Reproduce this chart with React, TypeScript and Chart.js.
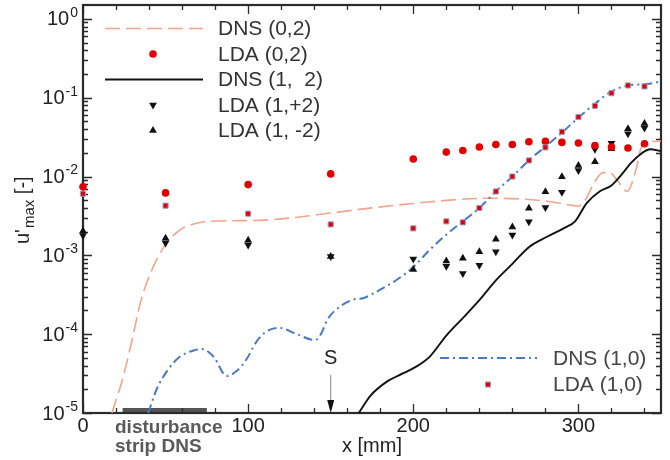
import React, { useEffect, useRef } from 'react';
import { Chart, registerables } from 'chart.js';

Chart.register(...registerables);

const FONT = '"Liberation Sans", Arial, Helvetica, sans-serif';

// ---- axis ticks ----
const xTickValues = [0, 100, 200, 300];
const yExponents = [0, -1, -2, -3, -4, -5];

// ---- LDA measurements ----
const ldaX = [0, 50, 100, 150, 200, 220, 230, 240, 250, 260, 270, 280, 290, 300, 310, 320, 330, 340];
const lda02Y = [7.4e-3, 6.2e-3, 7.9e-3, 1.08e-2, 1.67e-2, 2.04e-2, 2.14e-2, 2.37e-2, 2.55e-2, 2.55e-2, 2.76e-2, 2.79e-2, 2.71e-2, 2.66e-2, 2.48e-2, 2.37e-2, 2.3e-2, 2.6e-2];
const lda10Y = [6.05e-3, 4.27e-3, 3.38e-3, 2.47e-3, 2.2e-3, 2.7e-3, 2.62e-3, 3.99e-3, 6.47e-3, 1.0e-2, 1.6e-2, 2.34e-2, 3.7e-2, 5.68e-2, 7.89e-2, 0.114, 0.143, 0.139];
const lda1p2Y = [1.78e-3, 1.43e-3, 1.35e-3, 9.7e-4, 9.0e-4, 7.3e-4, 5.9e-4, 7.5e-4, 1.11e-3, 1.81e-3, 2.67e-3, 4.06e-3, 6.3e-3, 1.19e-2, 2.22e-2, 2.64e-2, 3.49e-2, 4.13e-2];
const lda1m2Y = [2.04e-3, 1.65e-3, 1.56e-3, 9.7e-4, 6.6e-4, 8.5e-4, 9.2e-4, 1.11e-3, 1.6e-3, 2.29e-3, 3.95e-3, 6.4e-3, 9.9e-3, 1.38e-2, 1.54e-2, 2.25e-2, 4.04e-2, 4.7e-2];

// ---- DNS curves ----
const dns02X = [17.5, 24.4, 30.5, 34.5, 38.6, 44.6, 50.7, 58.8, 66.9, 75, 90, 107, 130, 150, 175, 200, 224, 245, 265, 281, 291, 300, 305, 309.3, 315, 319, 323.4, 329.5, 335, 337.6, 342, 350];
const dns02Y = [1e-5, 2.9e-5, 1.0e-4, 2.4e-4, 4.5e-4, 8.8e-4, 1.44e-3, 2.1e-3, 2.5e-3, 2.68e-3, 2.75e-3, 2.78e-3, 3.05e-3, 3.45e-3, 4.0e-3, 4.55e-3, 5.05e-3, 5.3e-3, 5.2e-3, 4.85e-3, 4.5e-3, 4.2e-3, 5.4e-3, 8.2e-3, 1.12e-2, 1.12e-2, 9.0e-3, 6.5e-3, 1.25e-2, 2.2e-2, 2.75e-2, 2.8e-2];

const dns12X = [167, 174, 184, 194, 202, 210, 220, 230, 240, 250, 260, 270, 281, 291, 298, 305, 313, 320, 326, 332, 338, 343.5, 350];
const dns12Y = [1e-5, 1.65e-5, 2.5e-5, 3.2e-5, 3.9e-5, 5.2e-5, 9.6e-5, 1.6e-4, 2.7e-4, 4.8e-4, 7.8e-4, 1.27e-3, 1.72e-3, 2.2e-3, 2.7e-3, 4.6e-3, 6.5e-3, 7.7e-3, 1.05e-2, 1.5e-2, 1.95e-2, 2.22e-2, 2.1e-2];

const dns10X = [39.5, 44.6, 51.7, 58.8, 66.9, 72, 79, 87, 93, 99, 105, 111, 119, 129.5, 140.5, 144, 148, 155.8, 163.8, 170, 180, 190, 200, 210, 220, 230, 240, 250, 260, 270, 280, 290, 300, 310, 320, 330, 340, 350];
const dns10Y = [1e-5, 2.0e-5, 3.6e-5, 5.2e-5, 6.2e-5, 6.5e-5, 5.2e-5, 2.95e-5, 3.4e-5, 4.8e-5, 8.0e-5, 1.08e-4, 1.2e-4, 1.0e-4, 8.4e-5, 1.0e-4, 1.53e-4, 2.26e-4, 2.75e-4, 2.88e-4, 3.67e-4, 4.9e-4, 7.1e-4, 1.18e-3, 1.83e-3, 2.7e-3, 4.0e-3, 6.47e-3, 1.0e-2, 1.6e-2, 2.4e-2, 3.6e-2, 5.6e-2, 8.4e-2, 0.12, 0.143, 0.148, 0.16];

// ---- annotations ----
const stripRange = [24, 75];
const separationX = 150;
const legendTopLabels = ['DNS (0,2)', 'LDA (0,2)', 'DNS (1,  2)', 'LDA (1,+2)', 'LDA (1, -2)'];
const legendTopKinds = ['dash', 'circle', 'solid', 'down', 'up'];
const legendBottomLabels = ['DNS (1,0)', 'LDA (1,0)'];
const legendBottomKinds = ['dashdot', 'square'];

const RED = '#e00000';
const SALMON = '#f2a48e';
const BLUE = '#4a78c4';
const BLACK = '#111111';
const SQ_BORDER = '#9a9ac8';

const pts = (xs: number[], ys: number[]) => xs.map((x, i) => ({ x, y: ys[i] }));

function drawMarker(ctx: CanvasRenderingContext2D, kind: string, x: number, y: number) {
  ctx.save();
  ctx.setLineDash([]);
  if (kind === 'circle') {
    ctx.fillStyle = RED;
    ctx.beginPath();
    ctx.arc(x, y, 3.8, 0, Math.PI * 2);
    ctx.fill();
  } else if (kind === 'square') {
    ctx.fillStyle = RED;
    ctx.strokeStyle = SQ_BORDER;
    ctx.lineWidth = 1;
    ctx.fillRect(x - 2.5, y - 2.5, 5, 5);
    ctx.strokeRect(x - 2.5, y - 2.5, 5, 5);
  } else {
    const r = 4.5;
    const s = kind === 'up' ? 1 : -1;
    ctx.fillStyle = BLACK;
    ctx.beginPath();
    ctx.moveTo(x, y - s * r);
    ctx.lineTo(x + 0.866 * r, y + s * 0.5 * r);
    ctx.lineTo(x - 0.866 * r, y + s * 0.5 * r);
    ctx.closePath();
    ctx.fill();
  }
  ctx.restore();
}

function drawLegendLine(ctx: CanvasRenderingContext2D, kind: string, x0: number, x1: number, y: number) {
  ctx.save();
  ctx.beginPath();
  if (kind === 'dash') {
    ctx.strokeStyle = SALMON; ctx.lineWidth = 1.6; ctx.setLineDash([15, 6]);
  } else if (kind === 'solid') {
    ctx.strokeStyle = BLACK; ctx.lineWidth = 2; ctx.setLineDash([]);
  } else {
    ctx.strokeStyle = BLUE; ctx.lineWidth = 2; ctx.setLineDash([9, 4, 2, 4]);
  }
  ctx.moveTo(x0, y);
  ctx.lineTo(x1, y);
  ctx.stroke();
  ctx.restore();
}

const decoPlugin = {
  id: 'deco',
  beforeDatasetsDraw(chart: any) {
    const { ctx, chartArea: a, scales } = chart;
    const xs = scales.x;
    const ys = scales.y;
    ctx.save();
    // disturbance strip bar
    const sx0 = xs.getPixelForValue(stripRange[0]);
    const sx1 = xs.getPixelForValue(stripRange[1]);
    ctx.fillStyle = '#555555';
    ctx.fillRect(sx0, a.bottom - 5, sx1 - sx0, 5);
    // ticks
    ctx.strokeStyle = '#2b2b2b';
    ctx.lineWidth = 1.3;
    ctx.beginPath();
    for (let v = 0; v <= xs.max + 1e-9; v += 20) {
      const px = Math.round(xs.getPixelForValue(v)) + 0.5;
      const len = v % 100 === 0 ? 9 : 5;
      ctx.moveTo(px, a.bottom); ctx.lineTo(px, a.bottom - len);
      ctx.moveTo(px, a.top); ctx.lineTo(px, a.top + len);
    }
    for (let e = -5; e <= 0; e++) {
      for (let m = 1; m <= 9; m++) {
        const v = m * Math.pow(10, e);
        if (v > ys.max) break;
        const py = Math.round(ys.getPixelForValue(v)) + 0.5;
        const len = m === 1 ? 9 : 5;
        ctx.moveTo(a.left, py); ctx.lineTo(a.left + len, py);
        ctx.moveTo(a.right, py); ctx.lineTo(a.right - len, py);
      }
    }
    ctx.stroke();
    // frame
    ctx.lineWidth = 2.2;
    ctx.strokeRect(a.left, a.top, a.right - a.left, a.bottom - a.top);
    ctx.restore();
  },
  afterDraw(chart: any) {
    const { ctx, chartArea: a, scales } = chart;
    const xs = scales.x;
    const ys = scales.y;
    ctx.save();
    // y tick labels 10^n
    ctx.fillStyle = '#222222';
    ctx.textBaseline = 'middle';
    ctx.textAlign = 'right';
    yExponents.forEach((e) => {
      const py = ys.getPixelForValue(Math.pow(10, e));
      const exp = String(e);
      ctx.font = `14px ${FONT}`;
      const ew = ctx.measureText(exp).width;
      ctx.fillText(exp, 78, py - 6);
      ctx.font = `20px ${FONT}`;
      ctx.fillText('10', 78 - ew - 1, py + 1);
    });
    // y title u'_max [-]
    ctx.save();
    ctx.translate(29, 244);
    ctx.rotate(-Math.PI / 2);
    ctx.textAlign = 'left';
    ctx.textBaseline = 'alphabetic';
    ctx.font = `20px ${FONT}`;
    ctx.fillText("u'", 0, 0);
    let w = ctx.measureText("u'").width;
    ctx.font = `15px ${FONT}`;
    ctx.fillText('max', w + 1, 5);
    w += 1 + ctx.measureText('max').width;
    ctx.font = `20px ${FONT}`;
    ctx.fillText(' [-]', w, 0);
    ctx.restore();
    // x title
    ctx.textAlign = 'center';
    ctx.textBaseline = 'middle';
    ctx.font = `20px ${FONT}`;
    ctx.fillStyle = '#222222';
    ctx.fillText('x [mm]', 372, 446);
    // S marker and arrow
    const sx = xs.getPixelForValue(separationX);
    ctx.fillText('S', sx, 358);
    ctx.strokeStyle = '#888888';
    ctx.lineWidth = 1;
    ctx.beginPath();
    ctx.moveTo(sx, 375);
    ctx.lineTo(sx, 401);
    ctx.stroke();
    ctx.fillStyle = '#111111';
    ctx.beginPath();
    ctx.moveTo(sx - 3.5, 400);
    ctx.lineTo(sx + 3.5, 400);
    ctx.lineTo(sx, a.bottom);
    ctx.closePath();
    ctx.fill();
    // disturbance strip text
    ctx.textAlign = 'left';
    ctx.fillStyle = '#5a5a5a';
    ctx.font = `bold 19px ${FONT}`;
    ctx.fillText('disturbance', 115, 428);
    ctx.fillText('strip DNS', 115, 447);
    // top-left legend
    ctx.font = `21px ${FONT}`;
    legendTopLabels.forEach((lab, i) => {
      const y = 28.5 + i * 25.5;
      const k = legendTopKinds[i];
      if (k === 'dash' || k === 'solid') drawLegendLine(ctx, k, 105, 203, y);
      else drawMarker(ctx, k, 153, y);
      ctx.fillStyle = '#333333';
      ctx.textAlign = 'left';
      ctx.textBaseline = 'middle';
      ctx.fillText(lab, 218, y + 1);
    });
    // bottom-right legend
    legendBottomLabels.forEach((lab, i) => {
      const y = 358 + i * 26.5;
      const k = legendBottomKinds[i];
      if (k === 'dashdot') drawLegendLine(ctx, k, 440, 537, y);
      else drawMarker(ctx, k, 488, y);
      ctx.fillStyle = '#444444';
      ctx.textAlign = 'left';
      ctx.textBaseline = 'middle';
      ctx.fillText(lab, 553, y + 1);
    });
    ctx.restore();
  },
};

export default function App() {
  const ref = useRef<HTMLCanvasElement | null>(null);
  useEffect(() => {
    if (!ref.current) return;
    const chart = new Chart(ref.current, {
      type: 'line',
      data: {
        datasets: [
          {
            label: 'LDA (1,0)', data: pts(ldaX, lda10Y), showLine: false,
            pointStyle: 'rect', pointRadius: 3.6, backgroundColor: RED, borderColor: SQ_BORDER,
            pointBorderWidth: 1, clip: false,
          },
          {
            label: 'LDA (0,2)', data: pts(ldaX, lda02Y), showLine: false,
            pointStyle: 'circle', pointRadius: 3.8, backgroundColor: RED, borderColor: RED,
            pointBorderWidth: 0, clip: false,
          },
          {
            label: 'LDA (1,+2)', data: pts(ldaX, lda1p2Y), showLine: false,
            pointStyle: 'triangle', pointRotation: 180, pointRadius: 4.5, backgroundColor: BLACK,
            borderColor: BLACK, pointBorderWidth: 0, clip: false,
          },
          {
            label: 'LDA (1, -2)', data: pts(ldaX, lda1m2Y), showLine: false,
            pointStyle: 'triangle', pointRadius: 4.5, backgroundColor: BLACK,
            borderColor: BLACK, pointBorderWidth: 0, clip: false,
          },
          {
            label: 'DNS (1,0)', data: pts(dns10X, dns10Y), borderColor: BLUE, borderWidth: 2,
            borderDash: [9, 4, 2, 4], pointRadius: 0, cubicInterpolationMode: 'monotone', clip: 0,
          },
          {
            label: 'DNS (1,  2)', data: pts(dns12X, dns12Y), borderColor: BLACK, borderWidth: 1.9,
            pointRadius: 0, cubicInterpolationMode: 'monotone', clip: 0,
          },
          {
            label: 'DNS (0,2)', data: pts(dns02X, dns02Y), borderColor: SALMON, borderWidth: 1.6,
            borderDash: [15, 6], pointRadius: 0, cubicInterpolationMode: 'monotone', clip: 0,
          },
        ] as any,
      },
      options: {
        responsive: false,
        animation: false,
        devicePixelRatio: 1,
        layout: { padding: { top: 5, right: 9, left: 0, bottom: 0 } },
        plugins: { legend: { display: false }, tooltip: { enabled: false }, title: { display: false } },
        scales: {
          x: {
            type: 'linear', min: 0, max: 350,
            grid: { display: false, drawTicks: false },
            border: { display: false },
            afterBuildTicks: (s: any) => { s.ticks = xTickValues.map((v) => ({ value: v })); },
            afterFit: (s: any) => { s.height = 47; },
            ticks: {
              padding: 1, maxRotation: 0, autoSkip: false, color: '#222222',
              font: { family: FONT, size: 20 },
              callback: (v: any) => String(v),
            },
          },
          y: {
            type: 'logarithmic', min: 1e-5, max: 1.5,
            grid: { display: false, drawTicks: false },
            border: { display: false },
            ticks: { display: false },
            afterFit: (s: any) => { s.width = 83; },
          },
        },
      } as any,
      plugins: [decoPlugin],
    });
    return () => chart.destroy();
  }, []);
  return (
    <div style={{ position: 'fixed', left: 0, top: 0, width: 670, height: 460, background: '#ffffff' }}>
      <canvas ref={ref} width={670} height={460} style={{ display: 'block' }} />
    </div>
  );
}
